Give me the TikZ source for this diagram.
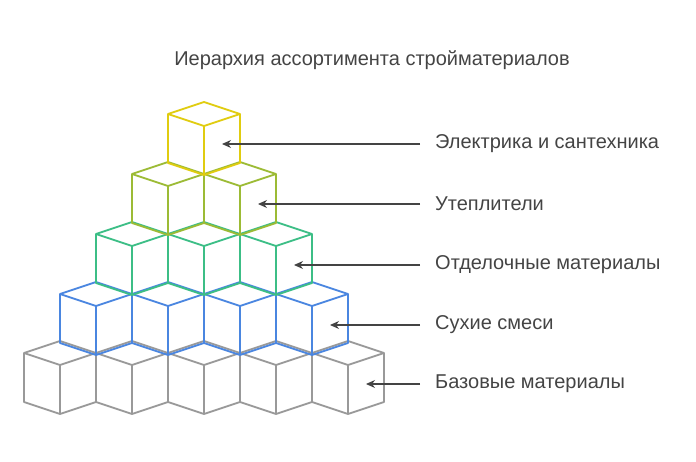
\documentclass[tikz,border=0pt]{standalone}
\usepackage{fontspec}
\setmainfont{Liberation Sans}
\usetikzlibrary{arrows.meta}
\definecolor{cgray}{HTML}{999999}
\definecolor{cblue}{HTML}{4A86E0}
\definecolor{cgreen}{HTML}{3CBE86}
\definecolor{colive}{HTML}{9CBB35}
\definecolor{cyellow}{HTML}{E0CC10}
\definecolor{ctext}{HTML}{444444}
\tikzset{
  cubeline/.style={line width=1.8pt, line join=round},
  lbl/.style={anchor=west, text=ctext, font=\fontsize{20pt}{24pt}\selectfont, inner sep=0pt},
  pointer/.style={draw=ctext, line width=1.3pt, -{Stealth[length=9pt,width=8pt]}}
}
\begin{document}
\begin{tikzpicture}[x=1pt,y=-1pt]
\useasboundingbox (0,0) rectangle (696,462);
\newcommand{\mycube}[3]{%
  \draw[cubeline,#3] (#1,#2)--(#1+36,#2-12)--(#1+72,#2)--(#1+36,#2+12)--cycle
    (#1,#2)--(#1,#2+49)--(#1+36,#2+61)--(#1+72,#2+49)--(#1+72,#2)
    (#1+36,#2+12)--(#1+36,#2+61);}
\foreach \i in {0,...,4} {\mycube{24+72*\i}{353}{cgray}}
\foreach \i in {0,...,3} {\mycube{60+72*\i}{294}{cblue}}
\foreach \i in {0,...,2} {\mycube{96+72*\i}{234}{cgreen}}
\foreach \i in {0,...,1} {\mycube{132+72*\i}{174}{colive}}
\mycube{168}{114}{cyellow}
\node[text=ctext, font=\fontsize{20pt}{24pt}\selectfont] (title) at (372,60) {Иерархия ассортимента стройматериалов};
\node[lbl] (l1) at (435,144) {Электрика и сантехника};
\node[lbl] (l2) at (435,204) {Утеплители};
\node[lbl] (l3) at (435,265) {Отделочные материалы};
\node[lbl] (l4) at (435,325) {Сухие смеси};
\node[lbl] (l5) at (435,384) {Базовые материалы};
\coordinate (t1) at (222,144);
\coordinate (t2) at (258,204);
\coordinate (t3) at (294,265);
\coordinate (t4) at (330,325);
\coordinate (t5) at (366,384);
\foreach \k in {1,...,5} {\draw[pointer] ([xshift=-15pt]l\k.west) -- (t\k);}
\end{tikzpicture}
\end{document}
